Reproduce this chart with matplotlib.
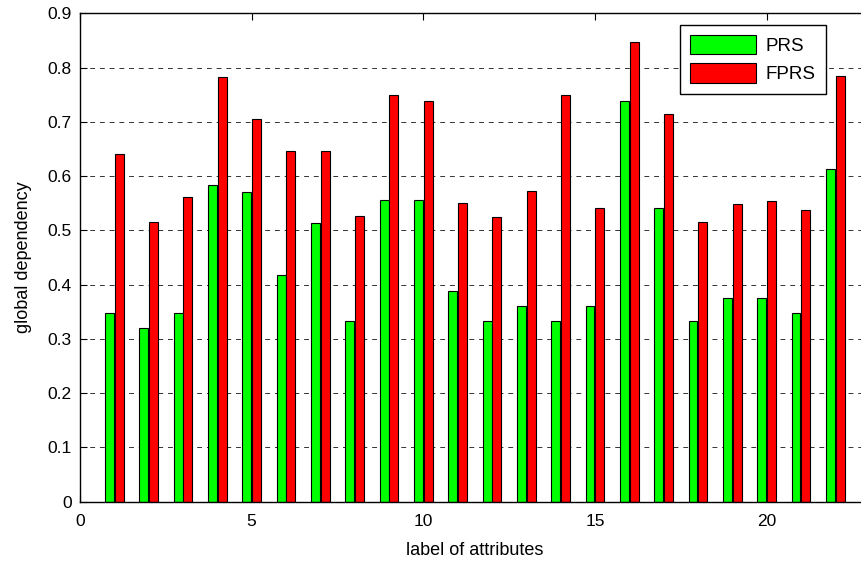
import numpy as np
import matplotlib
matplotlib.use("Agg")
import matplotlib.pyplot as plt

plt.rcParams['font.family'] = ['Liberation Sans', 'DejaVu Sans']

# attribute labels 1..22
attributes = np.arange(1, 23)

# global dependency per attribute
prs = [0.347, 0.320, 0.347, 0.583, 0.571, 0.417, 0.514, 0.333, 0.556, 0.556, 0.389,
       0.333, 0.361, 0.333, 0.361, 0.738, 0.542, 0.333, 0.375, 0.375, 0.347, 0.613]
fprs = [0.640, 0.515, 0.562, 0.783, 0.706, 0.646, 0.646, 0.527, 0.750, 0.738, 0.551,
        0.524, 0.572, 0.750, 0.542, 0.848, 0.714, 0.515, 0.548, 0.554, 0.538, 0.785]

fig = plt.figure(figsize=(8.62, 5.61), dpi=100)
# axes run to x=23; the right part falls outside the canvas
ax = fig.add_axes([0.0928, 0.1057, 0.916, 0.8706])
ax.set_axisbelow(True)

width = 0.26
offset = 0.143
ax.bar(attributes - offset, prs, width, color='#00ff00', edgecolor='black',
       linewidth=0.8, label='PRS', zorder=3)
ax.bar(attributes + offset, fprs, width, color='#ff0000', edgecolor='black',
       linewidth=0.8, label='FPRS', zorder=3)

ax.set_xlim(0, 23)
ax.set_ylim(0, 0.9)
ax.set_xticks([0, 5, 10, 15, 20])
ax.set_yticks(np.arange(0, 0.91, 0.1))
ax.set_yticklabels(['0', '0.1', '0.2', '0.3', '0.4', '0.5', '0.6', '0.7', '0.8', '0.9'])

ax.yaxis.grid(True, color='#333333', linestyle=(0, (5, 5)), linewidth=0.7)
ax.xaxis.grid(False)
ax.tick_params(direction='in', length=5, width=0.8, top=True, right=False,
               labelsize=12.5)
ax.tick_params(axis='x', pad=9)
ax.tick_params(axis='y', pad=6)
for sp in ax.spines.values():
    sp.set_linewidth(1.0)
    sp.set_zorder(4)
ax.spines['right'].set_visible(False)

ax.set_xlabel('label of attributes', fontsize=13, labelpad=9)
ax.set_ylabel('global dependency', fontsize=13, labelpad=11)

leg = ax.legend(loc='upper right', bbox_to_anchor=(0.958, 0.956),
                bbox_transform=fig.transFigure, borderaxespad=0,
                fontsize=13.5, fancybox=False, framealpha=1, edgecolor='black',
                handlelength=3.5, handleheight=1.2, handletextpad=0.5,
                labelspacing=0.45, borderpad=0.55)
leg.get_frame().set_linewidth(1.0)
leg.set_zorder(5)

fig.savefig('out.png', dpi=100)
